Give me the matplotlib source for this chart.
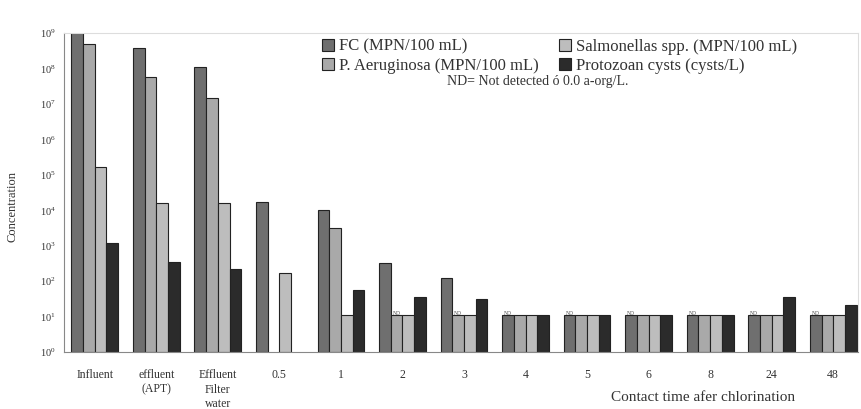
import numpy as np
import matplotlib.pyplot as plt
from matplotlib.ticker import LogLocator, LogFormatterMathtext

plt.rcParams['font.family'] = ['Liberation Serif', 'DejaVu Serif']
plt.rcParams['mathtext.fontset'] = 'stix'

categories = ['Influent', 'effluent\n(APT)', 'Effluent\nFilter\nwater', '0.5', '1', '2', '3',
              '4', '5', '6', '8', '24', '48']
fc = [1e9, 3.9e8, 1.1e8, 1.7e4, 1.0e4, 325, 120, 10, 10, 10, 10, 10, 10]
pa = [5e8, 5.9e7, 1.5e7, np.nan, 3.2e3, 10, 10, 10, 10, 10, 10, 10, 10]
salm = [1.7e5, 1.6e4, 1.6e4, 170, 10, 10, 10, 10, 10, 10, 10, 10, 10]
proto = [1.2e3, 350, 220, np.nan, 56, 35, 30, 10, 10, 10, 10, 34, 21]
# which bars carry an "ND" mark (series index per group)
nd_marks = [(5, 1), (6, 1), (7, 0), (8, 0), (9, 0), (10, 0), (11, 0), (12, 0)]

series = [
    ('FC (MPN/100 mL)', fc, '#6f6f6f'),
    ('P. Aeruginosa (MPN/100 mL)', pa, '#a9a9a9'),
    ('Salmonellas spp. (MPN/100 mL)', salm, '#bdbdbd'),
    ('Protozoan cysts (cysts/L)', proto, '#2b2b2b'),
]

fig = plt.figure(figsize=(8.61, 4.09), dpi=100)
ax = fig.add_axes([0.0743, 0.139, 0.922, 0.780])

x = np.arange(len(categories))
w = 0.19
handles = []
for i, (name, vals, col) in enumerate(series):
    b = ax.bar(x + (i - 1.5) * w, vals, w, bottom=1, color=col,
               edgecolor='#222222', linewidth=0.8, label=name)
    handles.append(b)

for g, s in nd_marks:
    vals = series[s][1]
    ax.text(x[g] + (s - 1.5) * w, vals[g] * 1.05, 'ND', fontsize=4, color='#444444',
            ha='center', va='bottom')

ax.set_yscale('log')
ax.set_ylim(1, 1e9)
ax.set_xlim(-0.5, 12.4)
ax.yaxis.set_major_locator(LogLocator(base=10, numticks=12))
ax.yaxis.set_major_formatter(LogFormatterMathtext())
ax.yaxis.set_minor_locator(plt.NullLocator())
ax.set_xticks(x)
ax.set_xticklabels(categories, fontsize=8.5, color='#333333', va='top', linespacing=1.3)
ax.tick_params(axis='x', length=0, pad=12)
ax.tick_params(axis='y', length=0, labelsize=7.5, colors='#333333', pad=6)

for sp in ['top', 'right']:
    ax.spines[sp].set_color('#dddddd')
for sp in ['left', 'bottom']:
    ax.spines[sp].set_color('#888888')

fig.text(0.014, 0.494, 'Concentration', rotation=90, fontsize=9, color='#333333',
         ha='center', va='center')
fig.text(0.816, 0.029, 'Contact time afer chlorination', fontsize=11, color='#333333',
         ha='center', va='center')

leg = fig.legend(handles=handles, loc='upper left', bbox_to_anchor=(0.356, 0.942),
                 ncol=2, frameon=False, fontsize=12, handlelength=0.75, handleheight=0.75,
                 handletextpad=0.3, columnspacing=1.2, labelspacing=0.2)
for t in leg.get_texts():
    t.set_color('#333333')
fig.text(0.624, 0.800, 'ND= Not detected ó 0.0 a-org/L.', fontsize=10, color='#333333',
         ha='center', va='center')

fig.savefig('out.png', dpi=100)
